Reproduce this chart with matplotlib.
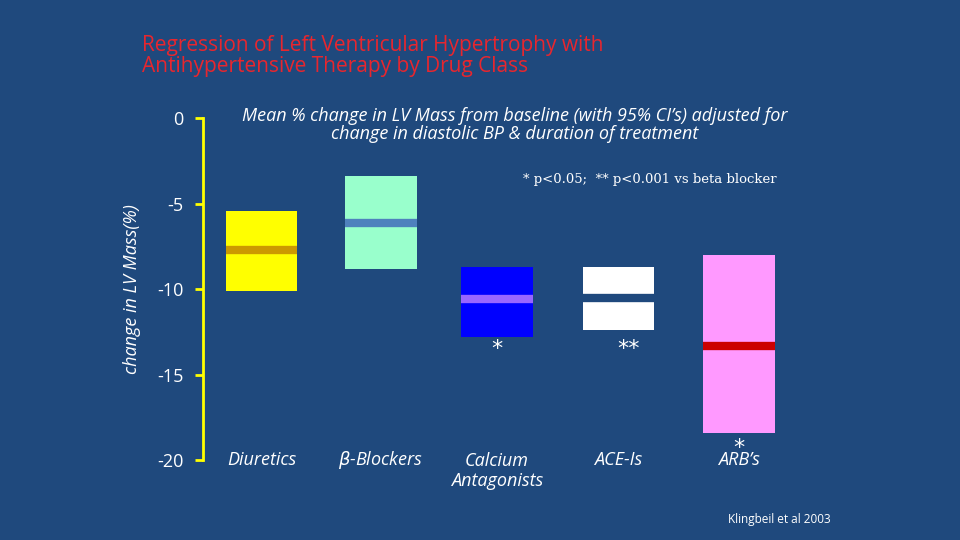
import matplotlib
matplotlib.use("Agg")
import matplotlib.pyplot as plt
from matplotlib.patches import Rectangle

categories = ["Diuretics", r"$\beta$-Blockers", "Calcium\nAntagonists", "ACE-Is", "ARB’s"]
ci_upper = [-5.4, -3.4, -8.7, -8.7, -8.0]
ci_lower = [-10.1, -8.8, -12.8, -12.4, -18.4]
means = [-7.7, -6.1, -10.6, -10.5, -13.3]
stars = ["", "", "*", "**", "*"]
star_y = [None, None, -13.5, -13.5, -19.3]
box_colors = ["#FFFF00", "#99FFCC", "#0000FF", "#FFFFFF", "#FF99FF"]
mean_colors = ["#CC9900", "#4F81BD", "#9966FF", "#1F497D", "#CC0000"]
positions = [0.49, 1.49, 2.46, 3.48, 4.49]
yticks = [0, -5, -10, -15, -20]

bg = "#1F497D"
fig = plt.figure(figsize=(9.6, 5.4), dpi=100, facecolor=bg)
ax = fig.add_axes([0.2115, 0.148, 0.622, 0.633])
ax.set_facecolor(bg)
ax.set_xlim(0, 5)
ax.set_ylim(-20, 0)
w = 0.6
for p, lo, hi, m, bc, mc in zip(positions, ci_lower, ci_upper, means, box_colors, mean_colors):
    ax.add_patch(Rectangle((p - w/2, lo), w, hi - lo, facecolor=bc, edgecolor="none"))
    ax.plot([p - w/2, p + w/2], [m, m], color=mc, lw=6, solid_capstyle="butt")
for p, s, sy in zip(positions, stars, star_y):
    if s:
        ax.text(p + (0.08 if s == "**" else 0), sy, s, color="white", fontsize=16, ha="center", va="center")
for p, c in zip(positions, categories):
    multi = "\n" in c
    ax.text(p, -19.55 if multi else -20, c, color="white", fontsize=13, style="italic", ha="center",
            va="top" if multi else "center", family="Open Sans", linespacing=1.1, clip_on=False)

for s in ["top", "right", "bottom"]:
    ax.spines[s].set_visible(False)
ax.spines["left"].set_color("#FFFF00")
ax.spines["left"].set_linewidth(2)
ax.set_xticks([])
ax.set_yticks(yticks)
ax.set_yticklabels([str(t) for t in yticks], color="white", fontsize=13, family="Open Sans")
ax.tick_params(axis="y", colors="#FFFF00", length=6, width=2, labelcolor="white", pad=8)
ax.set_ylabel("change in LV Mass(%)", color="white", fontsize=13, style="italic", family="Open Sans", labelpad=12)

fig.text(0.148, 0.935, "Regression of Left Ventricular Hypertrophy with\nAntihypertensive Therapy by Drug Class",
         color="#E8262E", fontsize=15, ha="left", va="top", family="Open Sans", linespacing=1.0)
fig.text(0.536, 0.768, "Mean % change in LV Mass from baseline (with 95% CI’s) adjusted for\nchange in diastolic BP & duration of treatment",
         color="white", fontsize=13, style="italic", ha="center", va="center", family="Open Sans", linespacing=1.0)
fig.text(0.545, 0.668, "* p<0.05;  ** p<0.001 vs beta blocker", color="white", fontsize=9.5,
         ha="left", va="center", family="DejaVu Serif")
fig.text(0.865, 0.025, "Klingbeil et al 2003", color="white", fontsize=8.5, ha="right", va="bottom", family="Open Sans")
fig.savefig("out.png", dpi=100, facecolor=bg)
